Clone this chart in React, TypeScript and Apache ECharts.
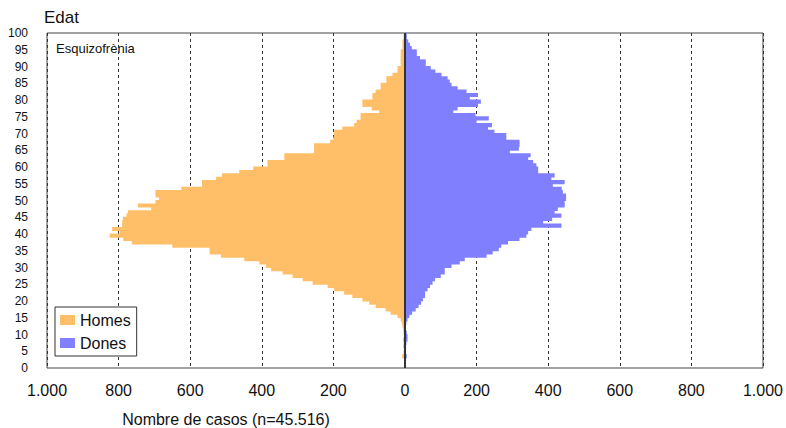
import React, { useEffect, useRef } from "react";
import * as echarts from "echarts";

// Ages 0..99, one bar per year of age
const ages: string[] = [
  "0","1","2","3","4","5","6","7","8","9",
  "10","11","12","13","14","15","16","17","18","19",
  "20","21","22","23","24","25","26","27","28","29",
  "30","31","32","33","34","35","36","37","38","39",
  "40","41","42","43","44","45","46","47","48","49",
  "50","51","52","53","54","55","56","57","58","59",
  "60","61","62","63","64","65","66","67","68","69",
  "70","71","72","73","74","75","76","77","78","79",
  "80","81","82","83","84","85","86","87","88","89",
  "90","91","92","93","94","95","96","97","98","99",
];

// Homes (men), cases per age 0..99
const homes: number[] = [
  3, 2, 2, 8, 4, 3, 5, 4, 6, 3,
  4, 5, 7, 9, 12, 21, 40, 54, 82, 100,
  119, 147, 170, 198, 216, 258, 286, 314, 342, 374,
  388, 407, 449, 514, 546, 546, 650, 763, 787, 825,
  797, 818, 790, 790, 788, 778, 774, 709, 746, 697,
  687, 697, 697, 625, 567, 567, 528, 511, 463, 424,
  384, 384, 337, 337, 254, 254, 254, 209, 200, 198,
  198, 175, 142, 135, 124, 124, 72, 93, 119, 119,
  91, 91, 82, 68, 68, 52, 52, 35, 21, 21,
  12, 12, 12, 12, 12, 7, 7, 7, 4, 4,
];

// Dones (women), cases per age 0..99
const dones: number[] = [
  2, 2, 3, 5, 2, 3, 3, 4, 7, 7,
  5, 3, 2, 4, 7, 12, 20, 30, 38, 45,
  50, 56, 56, 63, 70, 77, 84, 100, 111, 111,
  130, 153, 167, 228, 245, 262, 269, 288, 320, 339,
  344, 353, 437, 386, 411, 437, 418, 427, 446, 446,
  450, 450, 441, 438, 413, 446, 409, 418, 372, 372,
  367, 358, 344, 351, 293, 318, 320, 320, 283, 283,
  250, 232, 243, 200, 234, 197, 135, 147, 204, 212,
  181, 204, 172, 147, 130, 125, 119, 102, 85, 72,
  58, 58, 42, 33, 33, 19, 14, 9, 5, 5,
];

const seriesNames = ["Homes", "Dones"];
const FONT = "'Liberation Sans', Arial, sans-serif";

function fmtThousands(v: number): string {
  const a = Math.abs(Math.round(v));
  return String(a).replace(/\B(?=(\d{3})+(?!\d))/g, ".");
}

export default function App() {
  const ref = useRef<HTMLDivElement>(null);

  useEffect(() => {
    if (!ref.current) return;
    const chart = echarts.init(ref.current, undefined, { renderer: "svg" });
    const orange = "#FFBF69";
    const blue = "#8080FF";
    chart.setOption({
      animation: false,
      backgroundColor: "#ffffff",
      textStyle: { fontFamily: FONT },
      grid: {
        left: 47,
        right: 21,
        top: 33,
        bottom: 60,
        show: true,
        borderColor: "#444",
        borderWidth: 1,
        backgroundColor: "transparent",
      },
      legend: {
        orient: "vertical",
        left: 55,
        top: 307,
        data: seriesNames,
        icon: "rect",
        itemWidth: 15,
        itemHeight: 10,
        itemGap: 7,
        padding: [5, 6, 5, 5],
        borderColor: "#333",
        borderWidth: 1,
        backgroundColor: "#fff",
        textStyle: { fontSize: 16, color: "#111", fontFamily: FONT },
      },
      xAxis: {
        type: "value",
        min: -1000,
        max: 1000,
        interval: 200,
        axisLine: { show: false, onZero: false },
        axisTick: { show: false },
        splitLine: {
          show: true,
          lineStyle: { color: "#333", width: 1, type: [3, 3] },
        },
        axisLabel: {
          formatter: (v: number) => fmtThousands(v),
          fontSize: 16,
          color: "#111",
          margin: 14,
          fontFamily: FONT,
        },
      },
      yAxis: [
        {
          type: "category",
          data: ages,
          boundaryGap: true,
          show: false,
          position: "left",
          axisLine: { onZero: false },
        },
        {
          type: "value",
          min: 0,
          max: 100,
          interval: 5,
          position: "left",
          axisLine: { show: false, onZero: false },
          axisTick: { show: false },
          splitLine: { show: false },
          axisLabel: {
            fontSize: 12,
            color: "#111",
            margin: 19,
            fontFamily: FONT,
          },
        },
      ],
      series: [
        {
          name: seriesNames[0],
          type: "bar",
          yAxisIndex: 0,
          data: homes.map((v) => -v),
          barWidth: "125%",
          barGap: "-100%",
          itemStyle: { color: orange },
        },
        {
          name: seriesNames[1],
          type: "bar",
          yAxisIndex: 0,
          data: dones,
          barWidth: "125%",
          barGap: "-100%",
          itemStyle: { color: blue },
          markLine: {
            silent: true,
            symbol: "none",
            label: { show: false },
            lineStyle: { color: "#333", width: 2, type: "solid" },
            data: [{ xAxis: 0 }],
          },
        },
      ],
      graphic: [
        {
          type: "text",
          left: 44,
          top: 9,
          style: { text: "Edat", fontSize: 17, fill: "#111", fontFamily: FONT },
        },
        {
          type: "text",
          left: 56,
          top: 42,
          style: { text: "Esquizofrènia", fontSize: 13, fill: "#111", fontFamily: FONT },
        },
        {
          type: "text",
          x: 226,
          y: 419,
          style: {
            text: "Nombre de casos (n=45.516)",
            fontSize: 16,
            fill: "#111",
            fontFamily: FONT,
            align: "center",
            verticalAlign: "middle",
          },
        },
      ],
    });
    return () => chart.dispose();
  }, []);

  return (
    <div
      ref={ref}
      style={{ position: "fixed", left: 0, top: 0, width: 786, height: 428 }}
    />
  );
}
